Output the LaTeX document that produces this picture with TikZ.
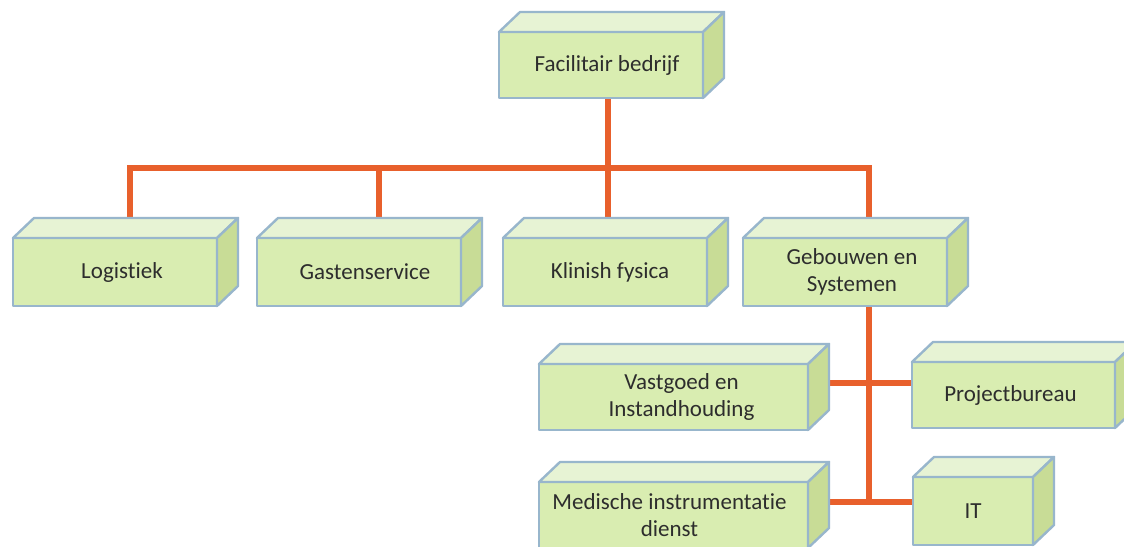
\documentclass[tikz,border=0pt]{standalone}
\usepackage{fontspec}
\setmainfont[Ligatures=NoCommon]{Carlito}
\usetikzlibrary{backgrounds}
\definecolor{frontcol}{RGB}{217,237,177}
\definecolor{topcol}{RGB}{231,243,212}
\definecolor{sidecol}{RGB}{200,220,150}
\definecolor{edgecol}{RGB}{152,182,204}
\definecolor{conncol}{RGB}{232,96,44}
\definecolor{txtcol}{RGB}{45,45,45}
\tikzset{
  frontface/.style={rectangle, fill=frontcol, draw=edgecol, line width=2.4pt, inner sep=0pt, outer sep=0pt, line join=round},
  topface/.style={fill=topcol, draw=edgecol, line width=2.4pt, line join=round},
  sideface/.style={fill=sidecol, draw=edgecol, line width=2.4pt, line join=round},
  lbl/.style={align=center, text=txtcol, font=\fontsize{23}{26.5}\selectfont, inner sep=0pt},
  conn/.style={draw=conncol, line width=6.5pt, line join=miter},
}
% name, x1, y1, x2, y2, text x-offset, text
\newcommand\cubebox[7]{%
  \node[frontface, minimum width={(#4-#2)*1pt}, minimum height={(#5-#3)*1pt}] (#1) at ({(#2+#4)/2},{(#3+#5)/2}) {};
  \filldraw[topface] (#1.north west) -- ++(21,-20) -- ([shift={(21,-20)}]#1.north east) -- (#1.north east) -- cycle;
  \filldraw[sideface] (#1.north east) -- ++(21,-20) -- ([shift={(21,-20)}]#1.south east) -- (#1.south east) -- cycle;
  \node[lbl] (#1-t) at ([xshift=#6]#1.center) {#7};
}
\begin{document}
\begin{tikzpicture}[x=1pt,y=-1pt]
\useasboundingbox (0,0) rectangle (1124,546);
\clip (0,0) rectangle (1124,546);

\cubebox{fac}{499}{32}{703}{98}{6}{Facilitair bedrijf}
\cubebox{log}{13}{238}{217}{306}{7}{Logistiek}
\cubebox{gas}{257}{238}{461}{306}{6}{Gastenservice}
\cubebox{kli}{503}{238}{707}{306}{5}{Klinish fysica}
\cubebox{geb}{743}{238}{947}{306}{7}{Gebouwen en\\Systemen}
\cubebox{vas}{539}{364}{808}{430}{8}{Vastgoed en\\Instandhouding}
\cubebox{pro}{912}{362}{1115}{428}{-3}{Projectbureau}
\cubebox{med}{539}{482}{808}{548}{-4}{Medische instrumentatie\\dienst}
\cubebox{it}{913}{477}{1033}{545}{0}{IT}

\coordinate (j0) at (608,168);
\coordinate (jl) at (130,168);
\coordinate (jg) at (379,168);
\coordinate (jr) at (869,168);
\coordinate (jv) at (869,383);
\coordinate (jb) at (869,502);

\begin{pgfonlayer}{background}
\fill[white] (0,0) rectangle (1124,546);
\draw[conn] (fac.south -| j0) -- (j0);
\draw[conn] (jl |- log.north) -- (jl) -- (jr) -- (jr |- geb.north);
\draw[conn] (jg) -- (jg |- gas.north);
\draw[conn] (j0) -- (j0 |- kli.north);
\draw[conn] (geb.south -| jv) -- (jb);
\draw[conn] (vas.east |- jv) -- (pro.west |- jv);
\draw[conn] (med.east |- jb) -- (it.west |- jb);
\end{pgfonlayer}
\end{tikzpicture}
\end{document}
